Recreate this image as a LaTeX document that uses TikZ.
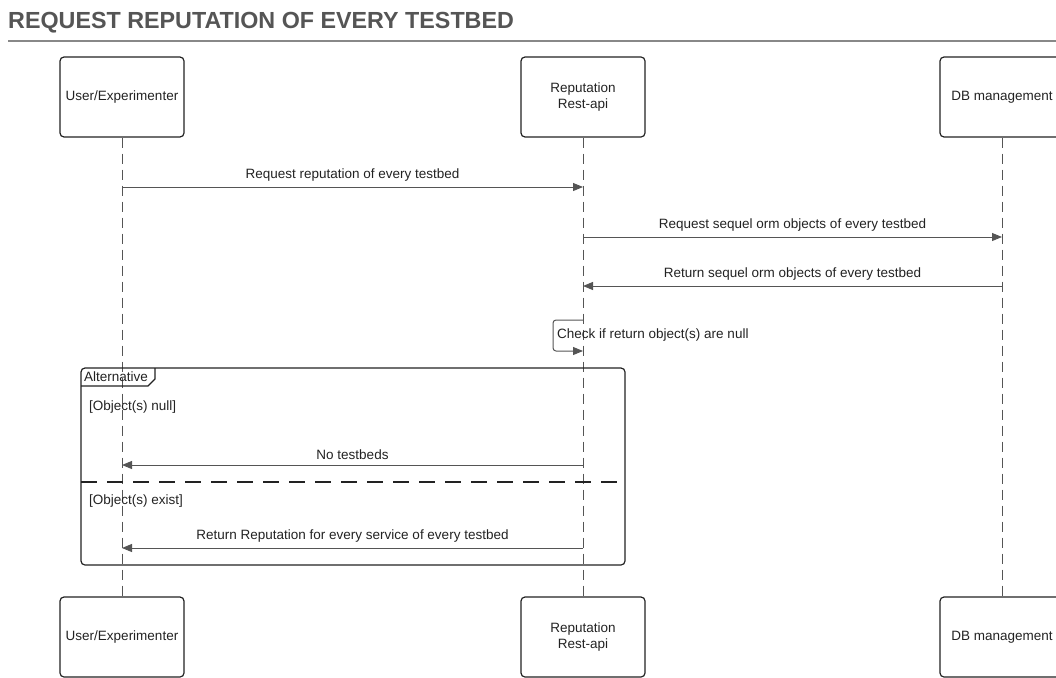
\documentclass[tikz,border=0pt]{standalone}
\usepackage{fontspec}
\setmainfont{Liberation Sans}
\usetikzlibrary{arrows.meta,calc}
\definecolor{ink}{HTML}{555555}
\definecolor{txt}{HTML}{222222}
\begin{document}
\begin{tikzpicture}[x=1pt,y=-1pt,
  actor/.style={draw=txt,line width=1.2pt,rounded corners=4pt,minimum width=124pt,minimum height=80pt,align=center,font=\fontsize{13.5}{15.5}\selectfont,text=txt,inner sep=0pt},
  life/.style={draw=ink,line width=1pt,dash pattern=on 10pt off 6pt},
  msg/.style={draw=ink,line width=1pt,-{Triangle[length=10pt,width=8pt]}},
  lbl/.style={font=\fontsize{13.5}{15.5}\selectfont,text=txt,inner sep=0pt},
  frame/.style={draw=txt,line width=1.2pt,rounded corners=4pt}
]
\useasboundingbox (0,0) rectangle (1056,677);
% title and rule
\node[anchor=west,inner sep=0pt,text=ink,font=\fontsize{23.3}{27}\selectfont\bfseries] (title) at (8,23) {REQUEST REPUTATION OF EVERY TESTBED};
\draw[draw=ink!70,line width=1.5pt] (8,41) -- (1056,41);

% participants
\node[actor] (u1) at (122,97) {User/Experimenter};
\node[actor] (r1) at (583,97) {Reputation\\Rest-api};
\node[actor] (d1) at (1002,97) {DB management};
\node[actor] (u2) at (122,637) {User/Experimenter};
\node[actor] (r2) at (583,637) {Reputation\\Rest-api};
\node[actor] (d2) at (1002,637) {DB management};

% lifelines
\draw[life] (u1.south) -- (u2.north);
\draw[life] (r1.south) -- (r2.north);
\draw[life] (d1.south) -- (d2.north);

% message anchor points on the lifelines
\coordinate (uA) at (122,187); \coordinate (rA) at (583,187);
\coordinate (rB) at (583,237); \coordinate (dB) at (1002,237);
\coordinate (dC) at (1002,286); \coordinate (rC) at (583,286);
\coordinate (rD) at (583,465); \coordinate (uD) at (122,465);
\coordinate (rE) at (583,548); \coordinate (uE) at (122,548);

\draw[msg] (uA) -- node[lbl,above=5pt] (m1) {Request reputation of every testbed} (rA);
\draw[msg] (rB) -- node[lbl,above=5pt] (m2) {Request sequel orm objects of every testbed} (dB);
\draw[msg] (dC) -- node[lbl,above=5pt] (m3) {Return sequel orm objects of every testbed} (rC);

% self message
\coordinate (s1) at (583,320);
\coordinate (s2) at (583,351);
\draw[msg,rounded corners=3pt] (s1) -- (553,320) -- (553,351) -- (s2);
\node[lbl,anchor=west] (m4) at (557,335) {Check if return object(s) are null};

% alternative fragment
\draw[frame] (81,368) rectangle (625,565);
\draw[frame,rounded corners=0pt] (81,386) -- (148,386) -- (155,379) -- (155,368);
\node[lbl,anchor=west] (alt) at (84,377) {Alternative};
\node[lbl,anchor=west] (g1) at (89,407) {[Object(s) null]};
\draw[msg] (rD) -- node[lbl,above=5pt] (m5) {No testbeds} (uD);
\draw[draw=txt,line width=1.2pt,dash pattern=on 16pt off 10pt] (81,482) -- (625,482);
\node[lbl,anchor=west] (g2) at (89,501) {[Object(s) exist]};
\draw[msg] (rE) -- node[lbl,above=5pt] (m6) {Return Reputation for every service of every testbed} (uE);
\end{tikzpicture}
\end{document}
